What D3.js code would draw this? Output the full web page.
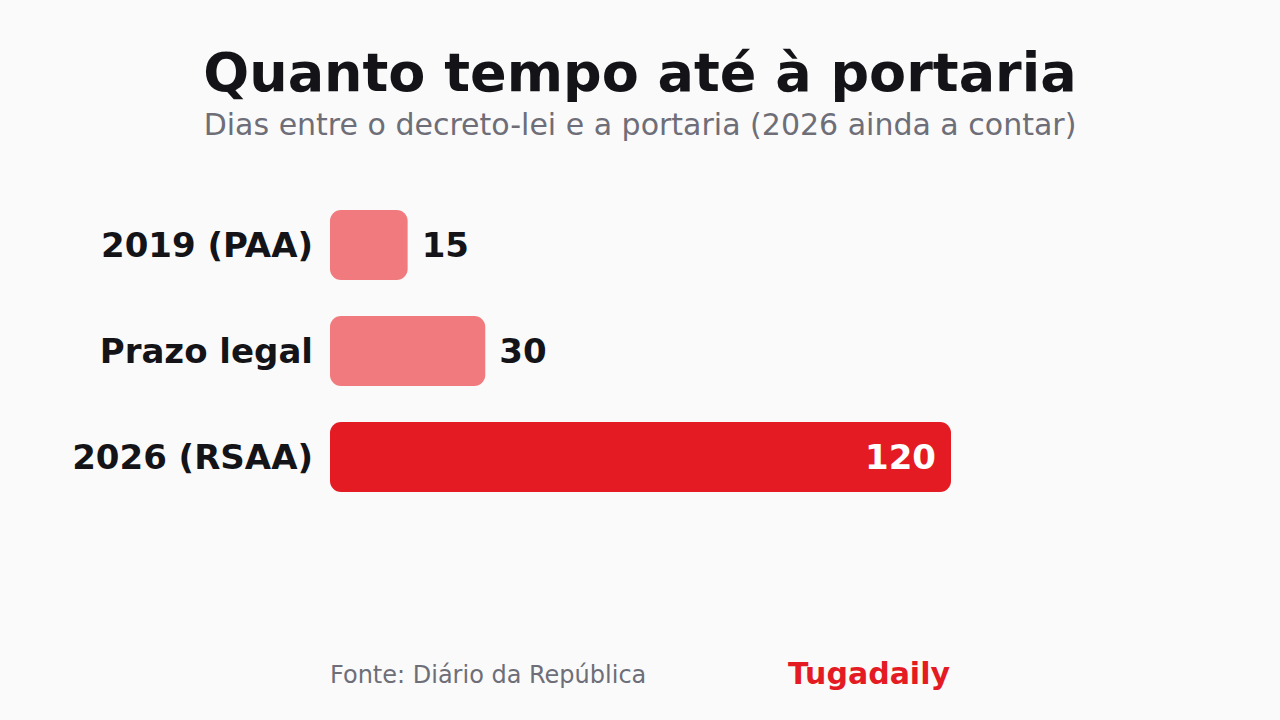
<!DOCTYPE html>
<html>
<head>
<meta charset="utf-8">
<script src="https://cdn.jsdelivr.net/npm/d3@7"></script>
<style>
  body { margin: 0; background: #FAFAFA; }
  svg { display: block; font-family: "DejaVu Sans", sans-serif; }
</style>
</head>
<body>
<script>
// data
var categories = ["2019 (PAA)", "Prazo legal", "2026 (RSAA)"];
var days = [15, 30, 120];
var highlight = [false, false, true];

var W = 1280, H = 720;

var svg = d3.select("body").append("svg")
    .attr("width", W)
    .attr("height", H);

svg.append("rect")
    .attr("width", W).attr("height", H)
    .attr("fill", "#FAFAFA");

// titles
svg.append("text")
    .attr("x", 640).attr("y", 91)
    .attr("text-anchor", "middle")
    .attr("font-size", 54).attr("font-weight", "bold")
    .attr("fill", "#141418")
    .text("Quanto tempo até à portaria");

svg.append("text")
    .attr("x", 640).attr("y", 135)
    .attr("text-anchor", "middle")
    .attr("font-size", 30)
    .attr("fill", "#6E6E78")
    .text("Dias entre o decreto-lei e a portaria (2026 ainda a contar)");

// scales
var x = d3.scaleLinear()
    .domain([0, 120])
    .range([330, 951]);

var y = d3.scaleBand()
    .domain(categories)
    .range([192, 510])
    .paddingInner(0.34)
    .paddingOuter(0.17);

var rows = svg.selectAll("g.row")
    .data(categories)
    .enter().append("g")
    .attr("class", "row");

rows.append("rect")
    .attr("x", x(0))
    .attr("y", function(d) { return y(d); })
    .attr("width", function(d, i) { return x(days[i]) - x(0); })
    .attr("height", y.bandwidth())
    .attr("rx", 11).attr("ry", 11)
    .attr("fill", function(d, i) { return highlight[i] ? "#E41B23" : "#F07A7E"; });

// category labels
rows.append("text")
    .attr("x", 313)
    .attr("y", function(d) { return y(d) + y.bandwidth() / 2; })
    .attr("dy", "0.35em")
    .attr("text-anchor", "end")
    .attr("font-size", 34).attr("font-weight", "bold")
    .attr("fill", "#141418")
    .text(function(d) { return d; });

// value labels
rows.append("text")
    .attr("x", function(d, i) {
      return highlight[i] ? x(days[i]) - 15 : x(days[i]) + 14;
    })
    .attr("y", function(d) { return y(d) + y.bandwidth() / 2; })
    .attr("dy", "0.35em")
    .attr("text-anchor", function(d, i) { return highlight[i] ? "end" : "start"; })
    .attr("font-size", 34).attr("font-weight", "bold")
    .attr("fill", function(d, i) { return highlight[i] ? "#FFFFFF" : "#141418"; })
    .text(function(d, i) { return days[i]; });

// footer
svg.append("text")
    .attr("x", 330).attr("y", 683)
    .attr("font-size", 24)
    .attr("fill", "#6E6E78")
    .text("Fonte: Diário da República");

svg.append("text")
    .attr("x", 950).attr("y", 684)
    .attr("text-anchor", "end")
    .attr("font-size", 30).attr("font-weight", "bold")
    .attr("fill", "#E41B23")
    .text("Tugadaily");
</script>
</body>
</html>
